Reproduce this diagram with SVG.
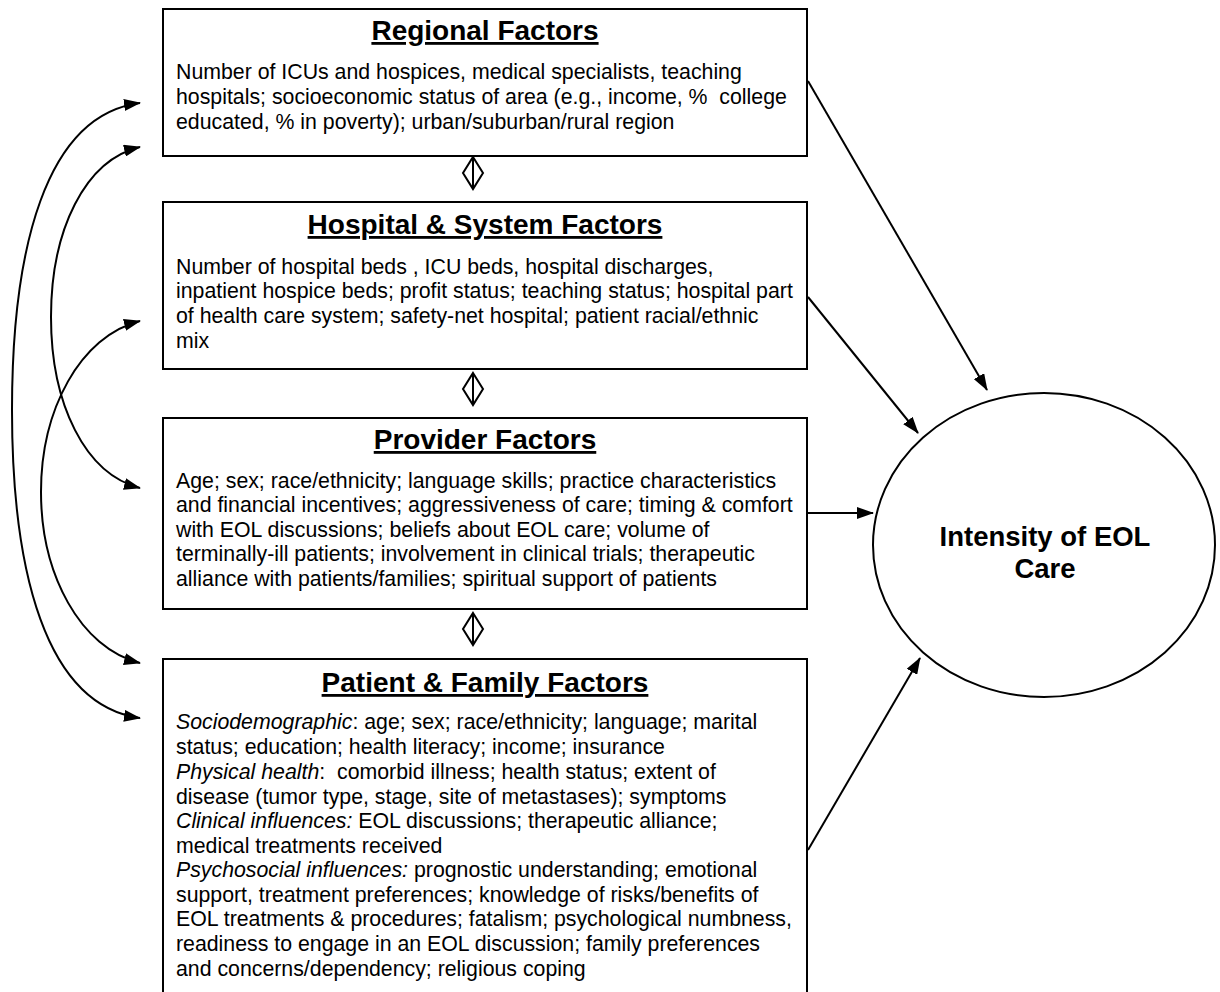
<svg xmlns="http://www.w3.org/2000/svg" width="1220" height="992" viewBox="0 0 1220 992">
<defs>
<style>
.box{fill:#fff;stroke:#000;stroke-width:2}
.title{font-family:"Liberation Sans",Arial,sans-serif;font-size:28px;font-weight:bold;text-anchor:middle;text-decoration:underline}
.body{font-family:"Liberation Sans",Arial,sans-serif;font-size:21.3px;fill:#000;white-space:pre}
.oc{font-family:"Liberation Sans",Arial,sans-serif;font-size:27.5px;font-weight:bold;text-anchor:middle}
.conn{fill:none;stroke:#000;stroke-width:2}
.dia{fill:#fff;stroke:#000;stroke-width:2}
</style>
<marker id="ah" markerUnits="userSpaceOnUse" markerWidth="17" markerHeight="12" refX="16" refY="6" orient="auto-start-reverse" viewBox="0 0 17 12">
<path d="M0,0 L17,6 L0,12 z" fill="#000"/>
</marker>
</defs>
<rect width="1220" height="992" fill="#fff"/>

<g id="connectors">
<path class="conn" d="M140,103 C45,115 12,250 12,410 C12,570 45,705 140,718" marker-start="url(#ah)" marker-end="url(#ah)"/>
<path class="conn" d="M140,147 C85,160 51,230 51,317 C51,404 85,474 140,488" marker-start="url(#ah)" marker-end="url(#ah)"/>
<path class="conn" d="M140,321 C80,336 41,410 41,492 C41,574 80,648 140,663" marker-start="url(#ah)" marker-end="url(#ah)"/>
<line class="conn" x1="808" y1="81" x2="987" y2="390" marker-end="url(#ah)"/>
<line class="conn" x1="808" y1="297" x2="918" y2="433" marker-end="url(#ah)"/>
<line class="conn" x1="808" y1="513" x2="873" y2="513" marker-end="url(#ah)"/>
<line class="conn" x1="808" y1="850" x2="920" y2="658" marker-end="url(#ah)"/>
<g id="link1"><polygon class="dia" points="473,157 483,173 473,189 463,173"/><line class="conn" x1="473" y1="157" x2="473" y2="189"/></g>
<g id="link2"><polygon class="dia" points="473,373 483,389 473,405 463,389"/><line class="conn" x1="473" y1="373" x2="473" y2="405"/></g>
<g id="link3"><polygon class="dia" points="473,613 483,629 473,645 463,629"/><line class="conn" x1="473" y1="613" x2="473" y2="645"/></g>
</g>

<g id="regional">
<rect class="box" x="163" y="9" width="644" height="147"/>
<text class="title" x="485" y="40">Regional Factors</text>
<text class="body" x="176" y="79">Number of ICUs and hospices, medical specialists, teaching</text>
<text class="body" x="176" y="104" xml:space="preserve">hospitals; socioeconomic status of area (e.g., income, %  college</text>
<text class="body" x="176" y="129">educated, % in poverty); urban/suburban/rural region</text>
</g>

<g id="hospital">
<rect class="box" x="163" y="202" width="644" height="167"/>
<text class="title" x="485" y="234">Hospital &amp; System Factors</text>
<text class="body" x="176" y="274">Number of hospital beds , ICU beds, hospital discharges,</text>
<text class="body" x="176" y="298">inpatient hospice beds; profit status; teaching status; hospital part</text>
<text class="body" x="176" y="323">of health care system; safety-net hospital; patient racial/ethnic</text>
<text class="body" x="176" y="348">mix</text>
</g>

<g id="provider">
<rect class="box" x="163" y="418" width="644" height="191"/>
<text class="title" x="485" y="449">Provider Factors</text>
<text class="body" x="176" y="488">Age; sex; race/ethnicity; language skills; practice characteristics</text>
<text class="body" x="176" y="512">and financial incentives; aggressiveness of care; timing &amp; comfort</text>
<text class="body" x="176" y="537">with EOL discussions; beliefs about EOL care; volume of</text>
<text class="body" x="176" y="561">terminally-ill patients; involvement in clinical trials; therapeutic</text>
<text class="body" x="176" y="586">alliance with patients/families; spiritual support of patients</text>
</g>

<g id="patient">
<rect class="box" x="163" y="659" width="644" height="345"/>
<text class="title" x="485" y="692">Patient &amp; Family Factors</text>
<text class="body" x="176" y="729"><tspan font-style="italic">Sociodemographic</tspan>: age; sex; race/ethnicity; language; marital</text>
<text class="body" x="176" y="754">status; education; health literacy; income; insurance</text>
<text class="body" x="176" y="779" xml:space="preserve"><tspan font-style="italic">Physical health</tspan>:  comorbid illness; health status; extent of</text>
<text class="body" x="176" y="804">disease (tumor type, stage, site of metastases); symptoms</text>
<text class="body" x="176" y="828"><tspan font-style="italic">Clinical influences:</tspan> EOL discussions; therapeutic alliance;</text>
<text class="body" x="176" y="853">medical treatments received</text>
<text class="body" x="176" y="877"><tspan font-style="italic">Psychosocial influences:</tspan> prognostic understanding; emotional</text>
<text class="body" x="176" y="902">support, treatment preferences; knowledge of risks/benefits of</text>
<text class="body" x="176" y="926">EOL treatments &amp; procedures; fatalism; psychological numbness,</text>
<text class="body" x="176" y="951">readiness to engage in an EOL discussion; family preferences</text>
<text class="body" x="176" y="976">and concerns/dependency; religious coping</text>
</g>

<g id="outcome">
<ellipse class="box" cx="1044" cy="545" rx="171" ry="152"/>
<text class="oc" x="1045" y="546">Intensity of EOL</text>
<text class="oc" x="1045" y="578">Care</text>
</g>
</svg>
